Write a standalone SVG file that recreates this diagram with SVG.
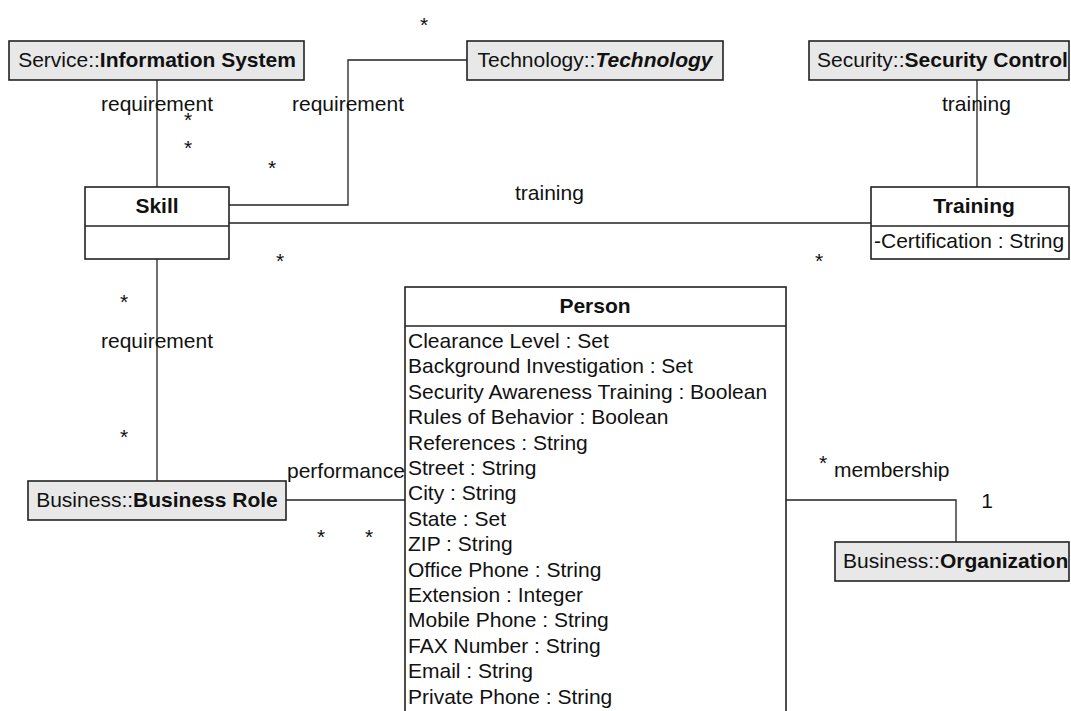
<svg xmlns="http://www.w3.org/2000/svg" width="1071" height="711" viewBox="0 0 1071 711">
<style>
text{font-family:"Liberation Sans",Arial,sans-serif;font-size:21px;fill:#111}
.b{font-weight:bold}
.bi{font-weight:bold;font-style:italic}
.m{text-anchor:middle}
.box{fill:#e8e8e8;stroke:#222;stroke-width:1.6}
.cls{fill:#fff;stroke:#222;stroke-width:1.6}
.sep{stroke:#222;stroke-width:1.6}
.ln{fill:none;stroke:#222;stroke-width:1.3}
</style>
<rect width="1071" height="711" fill="#fff"/>
<g id="connectors">
<path class="ln" d="M157 80V187"/>
<path class="ln" d="M229 205H348V60H467"/>
<path class="ln" d="M229 223H871"/>
<path class="ln" d="M977 80V187"/>
<path class="ln" d="M157 259V481"/>
<path class="ln" d="M286 500H405"/>
<path class="ln" d="M786 500H956V542"/>
</g>
<g id="labels">
<text x="101" y="111">requirement</text>
<text x="292" y="111">requirement</text>
<text x="515" y="200">training</text>
<text x="942" y="111">training</text>
<text x="101" y="348">requirement</text>
<text x="287" y="478">performance</text>
<text x="834" y="477">membership</text>
<text x="987" y="508" class="m">1</text>
<text x="424" y="32" class="m">*</text>
<text x="188" y="127" class="m">*</text>
<text x="188" y="155" class="m">*</text>
<text x="272" y="175" class="m">*</text>
<text x="280" y="268" class="m">*</text>
<text x="819" y="268" class="m">*</text>
<text x="124" y="309" class="m">*</text>
<text x="124" y="444" class="m">*</text>
<text x="321" y="544" class="m">*</text>
<text x="369" y="544" class="m">*</text>
<text x="823" y="470" class="m">*</text>
</g>
<g id="information-system">
<rect class="box" x="9" y="41" width="295" height="39"/>
<text x="157" y="67" class="m">Service::<tspan class="b">Information System</tspan></text>
</g>
<g id="technology">
<rect class="box" x="467" y="41" width="256" height="39"/>
<text x="595" y="67" class="m">Technology::<tspan class="bi">Technology</tspan></text>
</g>
<g id="security-control">
<rect class="box" x="809" y="41" width="260" height="39"/>
<text x="817" y="67">Security::<tspan class="b">Security Control</tspan></text>
</g>
<g id="skill">
<rect class="cls" x="85" y="187" width="144" height="72"/>
<line class="sep" x1="85" y1="226" x2="229" y2="226"/>
<text x="157" y="213" class="m b">Skill</text>
</g>
<g id="training">
<rect class="cls" x="871" y="187" width="198" height="72"/>
<line class="sep" x1="871" y1="226" x2="1069" y2="226"/>
<text x="974" y="213" class="m b">Training</text>
<text x="874" y="248">-Certification : String</text>
</g>
<g id="business-role">
<rect class="box" x="28" y="481" width="258" height="39"/>
<text x="157" y="507" class="m">Business::<tspan class="b">Business Role</tspan></text>
</g>
<g id="organization">
<rect class="box" x="835" y="542" width="234" height="39"/>
<text x="843" y="568">Business::<tspan class="b">Organization</tspan></text>
</g>
<g id="person">
<rect class="cls" x="405" y="287" width="381" height="440"/>
<line class="sep" x1="405" y1="326" x2="786" y2="326"/>
<text x="595" y="313" class="m b">Person</text>
<text x="408" y="348">Clearance Level : Set</text>
<text x="408" y="373.4">Background Investigation : Set</text>
<text x="408" y="398.8">Security Awareness Training : Boolean</text>
<text x="408" y="424.2">Rules of Behavior : Boolean</text>
<text x="408" y="449.6">References : String</text>
<text x="408" y="475">Street : String</text>
<text x="408" y="500.4">City : String</text>
<text x="408" y="525.8">State : Set</text>
<text x="408" y="551.2">ZIP : String</text>
<text x="408" y="576.6">Office Phone : String</text>
<text x="408" y="602">Extension : Integer</text>
<text x="408" y="627.4">Mobile Phone : String</text>
<text x="408" y="652.8">FAX Number : String</text>
<text x="408" y="678.2">Email : String</text>
<text x="408" y="703.6">Private Phone : String</text>
</g>
</svg>
